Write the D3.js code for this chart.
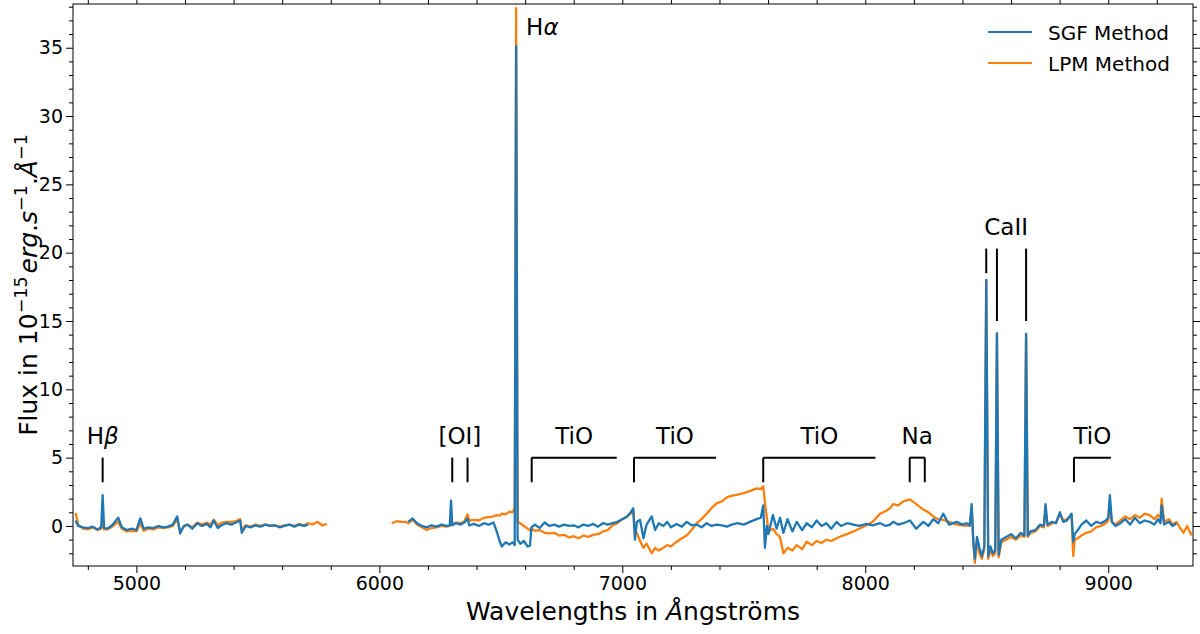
<!DOCTYPE html>
<html>
<head>
<meta charset="utf-8">
<script src="https://cdn.jsdelivr.net/npm/d3@7"></script>
<style>
  body { margin: 0; background: #fff; }
  text { font-family: "DejaVu Sans", sans-serif; }
</style>
</head>
<body>
<div id="chart"></div>
<script>
//Wavelength grid (Angstrom), shared by both series; null = no data
const wavelength = [
  4750, 4760, 4780, 4800, 4820, 4840, 4855, 4861, 4867, 4880,
  4900, 4925, 4940, 4960, 4980, 5000, 5016, 5030, 5050, 5070,
  5090, 5110, 5130, 5150, 5168, 5180, 5195, 5210, 5230, 5250,
  5270, 5290, 5305, 5318, 5335, 5350, 5370, 5390, 5410, 5427,
  5434, 5450, 5470, 5490, 5510, 5530, 5550, 5570, 5590, 5610,
  5630, 5650, 5670, 5690, 5707, 5725, 5745, 5765, 5784, 5920,
  6051, 6070, 6090, 6110, 6119, 6137, 6155, 6175, 6195, 6215,
  6235, 6255, 6275, 6290, 6295, 6300, 6315, 6335, 6350, 6363,
  6370, 6390, 6410, 6430, 6450, 6470, 6483, 6495, 6504, 6520,
  6535, 6548, 6557, 6563, 6569, 6580, 6595, 6610, 6620, 6626,
  6640, 6660, 6680, 6700, 6720, 6740, 6760, 6780, 6800, 6820,
  6840, 6860, 6880, 6900, 6920, 6940, 6960, 6980, 7000, 7020,
  7035, 7045, 7052, 7060, 7073, 7087, 7100, 7121, 7135, 7150,
  7169, 7185, 7200, 7224, 7245, 7265, 7285, 7306, 7326, 7347,
  7367, 7388, 7410, 7430, 7450, 7475, 7500, 7525, 7553, 7570,
  7580, 7587, 7595, 7601, 7620, 7635, 7649, 7663, 7680, 7700,
  7718, 7740, 7759, 7780, 7800, 7820, 7840, 7860, 7882, 7900,
  7925, 7951, 7975, 8006, 8030, 8061, 8085, 8102, 8115, 8135,
  8157, 8184, 8210, 8239, 8260, 8280, 8300, 8321, 8345, 8376,
  8400, 8417, 8430, 8438, 8445, 8451, 8460, 8470, 8480, 8490,
  8498, 8506, 8515, 8525, 8535, 8542, 8549, 8560, 8580, 8600,
  8620, 8640, 8655, 8662, 8669, 8680, 8700, 8720, 8735, 8742,
  8750, 8770, 8785, 8801, 8815, 8830, 8849, 8856, 8862, 8875,
  8890, 8910, 8930, 8950, 8970, 8990, 9000, 9007, 9015, 9030,
  9050, 9070, 9090, 9110, 9130, 9150, 9170, 9190, 9205, 9215,
  9220, 9230, 9250, 9265, 9281, 9295, 9310, 9325, 9343
];

//SGF method flux (10^-15 erg/s/A)
const sgfFlux = [
  0.4, 0.0, -0.1, -0.15, -0.05, -0.25, -0.1, 2.25, -0.15, -0.2,
  0.05, 0.6, -0.1, -0.3, -0.2, -0.3, 0.55, -0.2, -0.1, -0.15,
  0.0, -0.1, -0.05, 0.1, 0.7, -0.55, 0.0, 0.1, -0.2, 0.2,
  0.0, 0.15, -0.1, 0.4, -0.15, 0.05, 0.2, 0.1, 0.25, 0.4,
  -0.5, 0.0, -0.1, 0.05, -0.05, 0.1, 0.0, 0.05, -0.1, 0.0,
  0.1, -0.05, 0.1, 0.0, 0.1, null, null, null, null, null,
  null, null, null, null, 0.3, 0.55, 0.2, 0.0, -0.1, 0.05,
  -0.05, 0.1, 0.0, 0.05, 1.85, 0.05, 0.2, 0.1, 0.25, 0.55,
  0.05, 0.15, 0.0, 0.2, 0.1, 0.25, -0.4, -1.1, -1.5, -1.2,
  -1.35, -1.2, -1.4, 35.1, -1.0, -1.3, -1.1, -1.5, -1.45, -0.1,
  0.1, -0.15, 0.25, 0.0, 0.1, -0.05, 0.1, 0.0, 0.05, -0.1,
  0.1, 0.0, 0.15, -0.05, 0.2, 0.1, 0.2, 0.3, 0.5, 0.7,
  1.0, 1.3, -1.0, 0.3, 0.45, -0.9, 0.1, 0.7, -0.3, 0.2,
  0.0, 0.3, -0.1, 0.15, -0.05, 0.3, 0.05, 0.1, -0.1, 0.2,
  0.0, 0.1, 0.05, -0.05, 0.1, 0.2, 0.1, 0.3, 0.5, 0.6,
  1.5, -1.6, 0.0, -0.6, 0.8, -0.2, 0.6, -0.5, 0.5, -0.4,
  0.3, -0.3, 0.2, -0.1, 0.4, 0.0, 0.2, -0.2, 0.3, 0.0,
  0.2, 0.1, 0.0, 0.15, 0.05, 0.2, 0.0, 0.1, 0.3, 0.1,
  0.2, 0.4, -0.2, 0.3, 0.0, 0.5, 0.2, 0.9, 0.1, 0.3,
  0.1, 0.2, 0.0, 1.6, -1.2, -2.4, -0.8, -1.6, -2.2, -1.5,
  18.0, -2.2, -1.5, -2.0, -1.8, 14.1, -2.1, -1.0, -0.8, -0.6,
  -0.9, -0.5, -0.7, 14.05, -0.7, -0.4, -0.3, 0.1, 0.0, 1.6,
  0.1, 0.3, 0.2, 1.0, 0.3, 0.4, 0.9, -1.15, -0.6, -0.3,
  0.1, 0.4, 0.0, 0.3, 0.2, 0.4, 0.6, 2.25, 0.3, 0.0,
  0.2, 0.5, 0.1, 0.6, 0.2, 0.4, 0.3, 0.1, 0.5, 0.2,
  1.5, 0.1, 0.3, 0.0, 0.2, null, null, null, null
];

//LPM method flux (10^-15 erg/s/A)
const lpmFlux = [
  0.95, 0.1, -0.2, -0.25, -0.1, -0.3, -0.2, 0.2, -0.25, -0.25,
  -0.05, 0.3, -0.2, -0.4, -0.35, -0.4, 0.2, -0.35, -0.2, -0.25,
  -0.1, -0.15, -0.1, 0.0, 0.5, -0.4, -0.05, 0.1, -0.1, 0.25,
  0.1, 0.25, 0.1, 0.45, 0.05, 0.25, 0.3, 0.3, 0.35, 0.5,
  -0.3, 0.05, -0.05, 0.1, 0.0, 0.1, 0.05, 0.05, -0.05, 0.05,
  0.1, 0.0, 0.15, 0.05, 0.2, 0.1, 0.3, 0.05, 0.15, null,
  0.2, 0.35, 0.3, 0.3, 0.2, 0.45, 0.1, -0.1, -0.3, -0.15,
  -0.1, 0.0, -0.05, 0.0, 0.2, 0.1, 0.25, 0.2, 0.35, 0.85,
  0.4, 0.45, 0.4, 0.6, 0.65, 0.7, 0.8, 0.75, 0.9, 0.85,
  1.05, 1.0, 1.3, 37.9, 0.3, 0.2, 0.0, -0.2, -0.3, -0.2,
  -0.35, -0.3, -0.5, -0.55, -0.5, -0.7, -0.65, -0.85, -0.75, -0.9,
  -0.7, -0.8, -0.65, -0.6, -0.4, -0.3, 0.05, 0.2, 0.5, 0.7,
  0.9, 1.1, -0.6, -0.5, -1.1, -1.6, -1.3, -2.0, -1.6, -1.8,
  -1.6, -1.4, -1.5, -1.15, -0.9, -0.7, -0.3, 0.2, 0.5, 0.9,
  1.3, 1.65, 1.8, 2.1, 2.2, 2.3, 2.4, 2.55, 2.75, 2.7,
  2.9, 1.7, 0.6, -0.4, -0.2, -0.6, -0.8, -2.0, -1.6, -1.8,
  -1.4, -1.7, -1.15, -1.4, -1.1, -1.25, -1.0, -1.1, -0.9, -0.75,
  -0.6, -0.4, -0.2, 0.05, 0.3, 0.9, 1.1, 1.3, 1.6, 1.5,
  1.8, 1.95, 1.6, 1.2, 1.0, 0.7, 0.5, 0.45, 0.3, 0.1,
  0.05, 0.0, 0.1, 1.4, -1.3, -2.7, -1.2, -2.0, -2.4, -1.7,
  18.0, -2.4, -1.7, -2.2, -2.0, 14.1, -2.3, -1.2, -1.0, -0.8,
  -1.0, -0.7, -0.8, 14.05, -0.8, -0.5, -0.4, 0.0, -0.1, 1.2,
  0.0, 0.2, 0.25, 0.9, 0.4, 0.5, 0.8, -2.2, -1.0, -0.9,
  -0.7, -0.5, -0.4, -0.1, 0.0, 0.2, 0.4, 1.5, 0.3, 0.1,
  0.4, 0.7, 0.5, 0.8, 0.6, 0.9, 0.8, 0.5, 0.8, 0.6,
  2.0, 0.3, 0.5, 0.1, 0.3, -0.1, -0.5, 0.0, -0.7
];

//Series names
const seriesNames = ["SGF Method", "LPM Method"];

//Axis ticks
const xTicks = [5000, 6000, 7000, 8000, 9000];
const yTicks = [0, 5, 10, 15, 20, 25, 30, 35];

//Single emission lines (label, greek suffix, wavelengths)
const lineLabels = ["H", "[OI]"];
const lineGreek = ["\u03b2", ""];
const lineWaves = [[4861], [6300, 6363]];

//Absorption bands drawn as brackets (label, start, end)
const bandLabels = ["TiO", "TiO", "TiO", "Na", "TiO"];
const bandStart = [6627, 7048, 7580, 8183, 8859];
const bandEnd = [6977, 7386, 8042, 8245, 9011];

//Calcium triplet
const caWaves = [8498, 8542, 8662];
const haWave = 6563;

//SCRIPT PROPERTIES
const w = 1200, h = 634;
const margin = {left: 73, right: 7, top: 4, bottom: 68};
const colours = ["#1f77b4", "#ff7f0e"];

const svg = d3.select("#chart").append("svg")
  .attr("width", w)
  .attr("height", h)
  .style("background-color", "white");

//Scales
const x = d3.scaleLinear().domain([4739, 9349]).range([margin.left, w - margin.right]);
const y = d3.scaleLinear().domain([-2.93, 38.2]).range([h - margin.bottom, margin.top]);

const xMinor = d3.range(4800, 9349, 200).filter(v => v % 1000 !== 0);
const yMinor = d3.range(-2, 39, 1).filter(v => v % 5 !== 0);

const bottomY = h - margin.bottom, rightX = w - margin.right;

//Axes: major + minor ticks on all four sides, labels bottom/left only
svg.append("g").attr("transform", `translate(0,${bottomY})`)
  .call(d3.axisBottom(x).tickValues(xMinor).tickSize(4).tickFormat(""));
svg.append("g").attr("class", "tick-labels").attr("transform", `translate(0,${bottomY})`)
  .call(d3.axisBottom(x).tickValues(xTicks).tickSize(7).tickPadding(4).tickFormat(d3.format("d")));
svg.append("g").attr("transform", `translate(0,${margin.top})`)
  .call(d3.axisTop(x).tickValues(xMinor).tickSize(4).tickFormat(""));
svg.append("g").attr("transform", `translate(0,${margin.top})`)
  .call(d3.axisTop(x).tickValues(xTicks).tickSize(7).tickFormat(""));

svg.append("g").attr("transform", `translate(${margin.left},0)`)
  .call(d3.axisLeft(y).tickValues(yMinor).tickSize(4).tickFormat(""));
svg.append("g").attr("class", "tick-labels").attr("transform", `translate(${margin.left},0)`)
  .call(d3.axisLeft(y).tickValues(yTicks).tickSize(7).tickPadding(3).tickFormat(d3.format("d")));
svg.append("g").attr("transform", `translate(${rightX},0)`)
  .call(d3.axisRight(y).tickValues(yMinor).tickSize(4).tickFormat(""));
svg.append("g").attr("transform", `translate(${rightX},0)`)
  .call(d3.axisRight(y).tickValues(yTicks).tickSize(7).tickFormat(""));

svg.selectAll(".domain").remove();
svg.selectAll(".tick line").attr("stroke", "#000").attr("stroke-width", 1);
svg.selectAll(".tick-labels text")
  .attr("font-size", 19)
  .attr("fill", "#000")
  .style("font-family", "DejaVu Sans");

//Frame
svg.append("rect")
  .attr("x", margin.left)
  .attr("y", margin.top)
  .attr("width", rightX - margin.left)
  .attr("height", bottomY - margin.top)
  .attr("fill", "none")
  .attr("stroke", "#000")
  .attr("stroke-width", 1);

//Spectra
const plotArea = svg.append("g");
const seriesData = [sgfFlux, lpmFlux].map(flux =>
  wavelength.map((wl, i) => ({wl: wl, v: flux[i]})));

const line = d3.line()
  .defined(d => d.v !== null)
  .x(d => x(d.wl))
  .y(d => y(d.v));

//LPM underneath, SGF on top
[1, 0].forEach(i => {
  plotArea.append("path")
    .datum(seriesData[i])
    .attr("d", line)
    .attr("fill", "none")
    .attr("stroke", colours[i])
    .attr("stroke-width", 2.3)
    .attr("stroke-linejoin", "round");
});

//Annotations
const ann = svg.append("g");
const fontAnn = 23;
const markTop = 5.0, markBottom = 3.2, labelLevel = 6.0;

function mark(x1, y1, x2, y2) {
  ann.append("line")
    .attr("x1", x(x1)).attr("y1", y(y1))
    .attr("x2", x(x2)).attr("y2", y(y2))
    .attr("stroke", "#000").attr("stroke-width", 2);
}

function label(txt, wl, level, anchor) {
  return ann.append("text")
    .attr("x", x(wl))
    .attr("y", y(level))
    .attr("text-anchor", anchor || "middle")
    .attr("font-size", fontAnn)
    .attr("fill", "#000")
    .text(txt);
}

lineLabels.forEach((lab, i) => {
  lineWaves[i].forEach(wl => mark(wl, markTop, wl, markBottom));
  const t = label(lab, d3.mean(lineWaves[i]), labelLevel);
  if (lineGreek[i]) t.append("tspan").attr("font-style", "italic").text(lineGreek[i]);
});

bandLabels.forEach((lab, i) => {
  mark(bandStart[i], markTop, bandEnd[i], markTop);
  mark(bandStart[i], markTop, bandStart[i], markBottom);
  //Na doublet closes on both sides
  if (lab === "Na") mark(bandEnd[i], markTop, bandEnd[i], markBottom);
  label(lab, (bandStart[i] + bandEnd[i]) / 2, labelLevel);
});

//CaII triplet
caWaves.forEach((wl, i) => mark(wl, 20.3, wl, i === 0 ? 18.5 : 15.0));
label("CaII", (caWaves[0] + caWaves[2]) / 2, 21.3);

//H alpha
label("H", haWave + 41, 35.9, "start")
  .append("tspan").attr("font-style", "italic").text("\u03b1");

//Legend
const legend = svg.append("g").attr("transform", "translate(988,32)");
seriesNames.forEach((name, i) => {
  const row = legend.append("g").attr("transform", `translate(0,${i * 31})`);
  row.append("line")
    .attr("x1", 0).attr("x2", 44)
    .attr("stroke", colours[i]).attr("stroke-width", 2);
  row.append("text")
    .attr("x", 60).attr("y", 7.5)
    .attr("font-size", 20)
    .attr("fill", "#000")
    .text(name);
});

//Axis labels
svg.append("text")
  .attr("x", (margin.left + rightX) / 2)
  .attr("y", 620)
  .attr("text-anchor", "middle")
  .attr("font-size", 25)
  .attr("fill", "#000")
  .call(t => {
    t.append("tspan").text("Wavelengths in ");
    t.append("tspan").attr("font-style", "italic").text("\u00c5");
    t.append("tspan").text("ngstr\u00f6ms");
  });

const yl = svg.append("text")
  .attr("transform", `translate(37,${(margin.top + bottomY) / 2}) rotate(-90)`)
  .attr("text-anchor", "middle")
  .attr("font-size", 25)
  .attr("fill", "#000");
yl.append("tspan").text("Flux in 10");
yl.append("tspan").attr("font-size", 17.5).attr("dy", -10).text("\u221215");
yl.append("tspan").attr("font-style", "italic").attr("dy", 10).attr("dx", 3).text("erg");
yl.append("tspan").text(".");
yl.append("tspan").attr("font-style", "italic").text("s");
yl.append("tspan").attr("font-size", 17.5).attr("dy", -10).text("\u22121");
yl.append("tspan").attr("dy", 10).text(".");
yl.append("tspan").attr("font-style", "italic").text("\u00c5");
yl.append("tspan").attr("font-size", 17.5).attr("dy", -10).text("\u22121");
</script>
</body>
</html>
